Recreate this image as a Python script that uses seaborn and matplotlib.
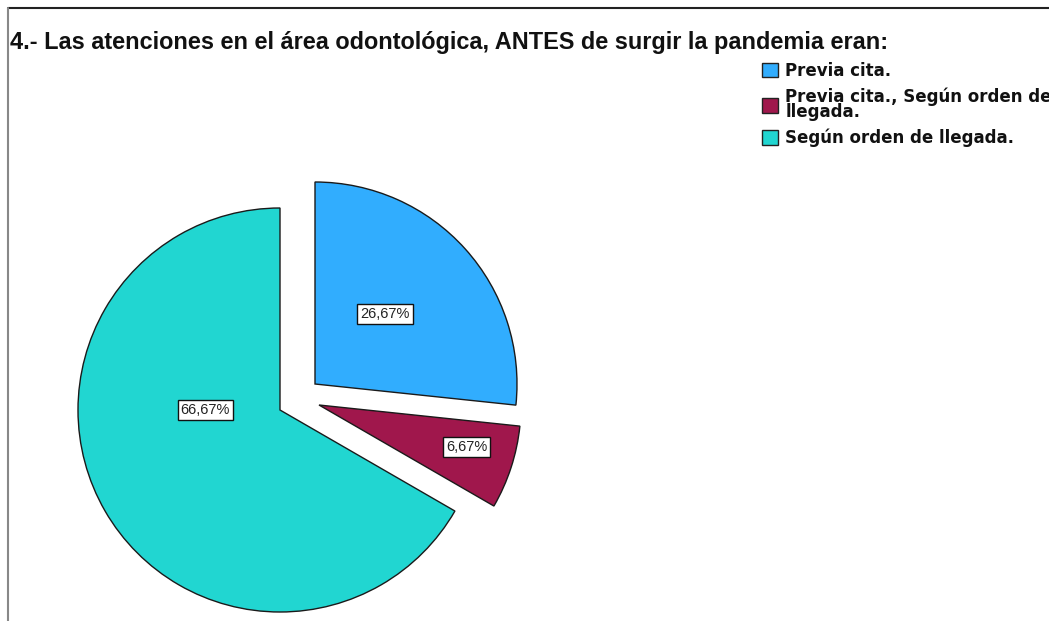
import numpy as np
import matplotlib
matplotlib.use("Agg")
import matplotlib.pyplot as plt
from matplotlib.lines import Line2D
from matplotlib.patches import Patch
import seaborn as sns

# ---- data ----
categories = ["Previa cita.", "Previa cita., Según orden de\nllegada.", "Según orden de llegada."]
percentages = [26.67, 6.67, 66.67]
title = "4.- Las atenciones en el área odontológica, ANTES de surgir la pandemia eran:"

# ---- style ----
colors = ["#31adfe", "#a0174c", "#21d6d1"]
slice_offsets = [(35, 26), (39, 5), (0, 0)]   # detach offsets (px, y up)
label_pos = [(0.49, 45), (0.76, -16), (0.37, 180)]  # (fraction of radius, angle deg)

sns.set_theme(style="white")
plt.rcParams["font.family"] = ["Liberation Sans", "DejaVu Sans"]

W, H = 1049, 621
fig = plt.figure(figsize=(W / 100, H / 100), dpi=100)
ax = fig.add_axes([0, 0, 1, 1])

R = 202
C = (280, H - 410)
wedges, _ = ax.pie(percentages, colors=colors, startangle=90, counterclock=False,
                   center=C, radius=R,
                   wedgeprops=dict(edgecolor="#1a1a1a", linewidth=1.0), frame=True)
for w, (dx, dy) in zip(wedges, slice_offsets):
    w.set_center((C[0] + dx, C[1] + dy))
ax.set_xlim(0, W)
ax.set_ylim(0, H)
ax.set_aspect("equal")
ax.axis("off")

for w, v, (f, a) in zip(wedges, percentages, label_pos):
    cx, cy = w.center
    x = cx + f * R * np.cos(np.radians(a))
    y = cy + f * R * np.sin(np.radians(a))
    ax.text(x, y, f"{v:.2f}%".replace(".", ","), ha="center", va="center",
            fontsize=10.5, color="#222222",
            bbox=dict(boxstyle="square,pad=0.2", facecolor="white", edgecolor="#111111", linewidth=1.0))

fig.text(10 / W, 1 - 43 / H, title, ha="left", va="center", fontsize=16.9,
         fontweight="bold", color="#111111")

handles = [Patch(facecolor=c, edgecolor="#222222", linewidth=1.0) for c in colors]
leg = fig.legend(handles, categories, loc="upper left", bbox_to_anchor=(762 / W, 1 - 62 / H),
                 frameon=False, prop=dict(family="DejaVu Sans", weight="bold", size=12),
                 handlelength=0.95, handleheight=0.95, handletextpad=0.45, labelspacing=0.45,
                 borderpad=0, borderaxespad=0)
for t in leg.get_texts():
    t.set_linespacing(0.8)
    t.set_color("#111111")

# frame lines
fig.add_artist(Line2D([8 / W, 1], [1 - 8 / H, 1 - 8 / H], color="#222222", linewidth=1.5))
fig.add_artist(Line2D([8 / W, 8 / W], [0, 1 - 8 / H], color="#888888", linewidth=1.5))

fig.savefig("out.png", dpi=100)
